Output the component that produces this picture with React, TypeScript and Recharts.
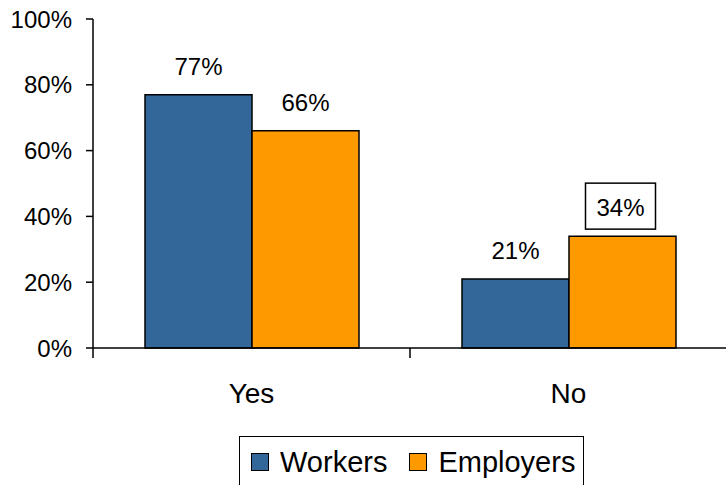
import React from "react";
import { Bar, BarChart, LabelList, XAxis, YAxis } from "recharts";

// ─── Data ────────────────────────────────────────────────────

const categories = ["Yes", "No"];
const workers = [77, 21];
const employers = [66, 34];
const employersBoxed = [false, true];
const yTicks = [0, 20, 40, 60, 80, 100];

const series = [
  { key: "workers", label: "Workers", color: "#336699", values: workers, boxed: [false, false] },
  { key: "employers", label: "Employers", color: "#FF9900", values: employers, boxed: employersBoxed },
];

const data = categories.map((c, i) => ({
  name: c,
  workers: workers[i],
  employers: employers[i],
}));

const FONT = '"Liberation Sans", Arial, sans-serif';

// ─── Category tick: label at centre, tick mark at band edge ─

function CategoryTick(props: any) {
  const { x, y, payload } = props;
  const half = payload?.offset ?? 158.5;
  return (
    <g>
      <line x1={x - half} x2={x - half} y1={y} y2={y + 10} stroke="#000" strokeWidth={1.5} />
      <text x={x} y={y + 55} textAnchor="middle" fontSize={28} fill="#000" fontFamily={FONT}>
        {payload.value}
      </text>
    </g>
  );
}

// ─── Value label (optionally boxed) ──────────────────────────

function makeLabel(boxed: boolean[]) {
  return function ValueLabel(props: any) {
    const { x, y, width, value, index } = props;
    const cx = Number(x) + Number(width) / 2;
    const base = Number(y) - 20;
    return (
      <g>
        {boxed[index] && (
          <rect x={cx - 37} y={base - 33} width={70} height={46} fill="#fff" stroke="#000" strokeWidth={1.5} />
        )}
        <text x={cx - (boxed[index] ? 2 : 0)} y={base} textAnchor="middle" fontSize={24} fill="#000" fontFamily={FONT}>
          {value}%
        </text>
      </g>
    );
  };
}

export default function App() {
  return (
    <div
      style={{
        position: "relative",
        width: 726,
        height: 485,
        overflow: "hidden",
        background: "#fff",
        fontFamily: FONT,
      }}
    >
      <style>{`html,body{margin:0;padding:0;overflow:hidden;}`}</style>
      <BarChart
        width={740}
        height={485}
        data={data}
        margin={{ top: 19, right: 13, left: 0, bottom: 0 }}
        barCategoryGap={52}
        barGap={0}
      >
        <XAxis
          dataKey="name"
          height={137}
          axisLine={{ stroke: "#000", strokeWidth: 1.5 }}
          tickLine={false}
          tickSize={0}
          tickMargin={0}
          tick={<CategoryTick />}
          interval={0}
        />
        <YAxis
          width={93}
          domain={[0, 100]}
          ticks={yTicks}
          tickFormatter={(v) => `${v}%`}
          axisLine={{ stroke: "#000", strokeWidth: 1.5 }}
          tickLine={{ stroke: "#000", strokeWidth: 1.5 }}
          tickSize={7}
          tickMargin={14}
          tick={{ fill: "#000", fontSize: 24, fontFamily: FONT }}
        />
        {series.map((s) => (
          <Bar
            key={s.key}
            dataKey={s.key}
            name={s.label}
            fill={s.color}
            stroke="#000"
            strokeWidth={1.5}
            isAnimationActive={false}
          >
            <LabelList dataKey={s.key} content={makeLabel(s.boxed)} />
          </Bar>
        ))}
      </BarChart>

      {/* Legend */}
      <div
        style={{
          position: "absolute",
          left: 239,
          top: 436,
          width: 345,
          height: 52,
          boxSizing: "border-box",
          border: "1.5px solid #000",
          display: "flex",
          alignItems: "center",
          paddingLeft: 11,
        }}
      >
        {series.map((s, i) => (
          <div key={s.key} style={{ display: "flex", alignItems: "center", marginLeft: i === 0 ? 0 : 22 }}>
            <span
              style={{
                width: 18,
                height: 18,
                boxSizing: "border-box",
                background: s.color,
                border: "1.5px solid #000",
                marginRight: 11,
              }}
            />
            <span style={{ fontSize: 29, lineHeight: 1, color: "#000" }}>{s.label}</span>
          </div>
        ))}
      </div>
    </div>
  );
}
